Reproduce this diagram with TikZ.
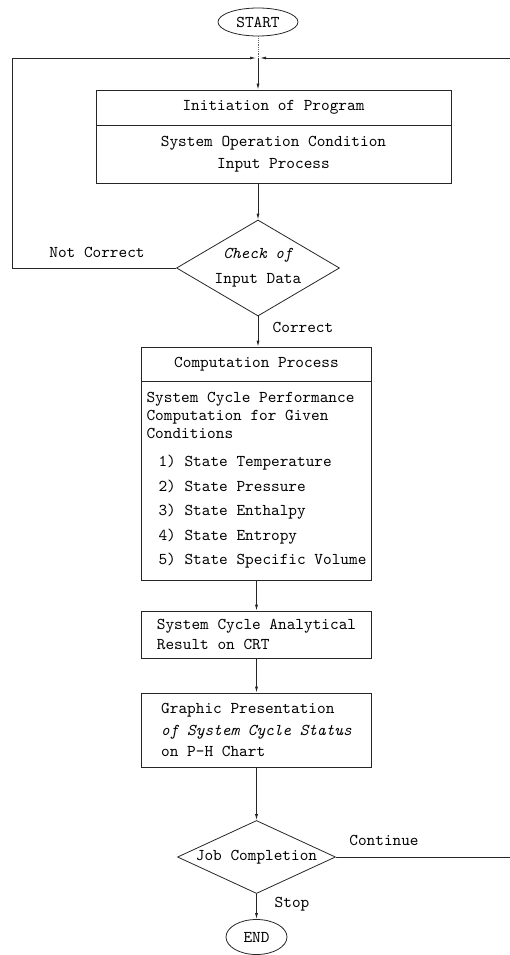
\documentclass[tikz,border=0pt]{standalone}
\usepackage{fontspec}
\newfontfamily\flowfont{lmmono10-regular.otf}[ItalicFont=lmmono10-italic.otf]
\usetikzlibrary{shapes.geometric,arrows.meta,positioning}

\begin{document}
\begin{tikzpicture}[x=1pt,y=-1pt,
  every node/.style={font=\flowfont\fontsize{16.5}{18}\selectfont},
  box/.style={draw=black!85,line width=0.8pt,rectangle,inner sep=0pt,minimum width=230pt},
  decide/.style={draw=black!85,line width=0.8pt,diamond,inner sep=0pt},
  term/.style={draw=black!85,line width=0.8pt,ellipse,inner sep=0pt},
  flow/.style={draw=black!85,line width=0.8pt,-{Latex[length=6pt,width=3pt]}}
  ]
\useasboundingbox (0,0) rectangle (509,955);

% terminals and corners of the loops
\node[term,minimum width=80pt,minimum height=28pt] (start) at (258,22) {START};
\coordinate (j) at (258,58);
\coordinate (ll) at (12,58);
\coordinate (rr) at (512,58);

% input block
\node[box,minimum width=355pt,minimum height=35pt] (init) at (273.5,107.5) {Initiation of Program};
\node[box,minimum width=355pt,minimum height=58pt,align=center] (cond) at (273.5,154)
  {System Operation Condition\\[4pt]Input Process};
\node[decide,minimum width=163pt,minimum height=96pt] (chk) at (258,268) {};
\node[align=center] (chktxt) at (chk) {\itshape Check of\\[7pt]Input Data};

% computation
\node[box,minimum height=34pt] (comptop) at (256.5,364) {Computation Process};
\node[box,minimum height=199pt,align=left] (comp) at (256.5,480.5)
  {System Cycle Performance\\Computation for Given\\Conditions\\[10pt]
   \hspace*{12pt}1) State Temperature\\[6.5pt]
   \hspace*{12pt}2) State Pressure\\[6.5pt]
   \hspace*{12pt}3) State Enthalpy\\[6.5pt]
   \hspace*{12pt}4) State Entropy\\[6.5pt]
   \hspace*{12pt}5) State Specific Volume};

% results
\node[box,minimum height=47pt,align=left] (res) at (256.5,634.5)
  {System Cycle Analytical\\[2pt]Result on CRT};
\node[box,minimum height=74pt,align=left] (graph) at (256.5,730)
  {Graphic Presentation\\[3.5pt]\itshape of System Cycle Status\\[3.5pt]on P–H Chart};
\node[decide,minimum width=158pt,minimum height=73pt] (job) at (256.5,857) {};
\node (jobtxt) at (job) {Job Completion};
\node[term,minimum width=61pt,minimum height=35pt] (end) at (256.5,937) {END};

% labels
\node (notc) at (97,252) {Not Correct};
\node (corr) at (303,327) {Correct};
\node (cont) at (384,840) {Continue};
\node (stop) at (292,904) {Stop};

% connectors
\draw[black!60,line width=0.8pt,densely dotted] (start) -- (j);
\draw[flow] (j) -- (j |- init.north);
\draw[flow] (j |- cond.south) -- (chk.north);
\draw[flow,shorten >=2pt] (chk.west) -| (ll) -- (j);
\draw[flow] (chk.south) -- (chk.south |- comptop.north);
\draw[flow] (comp) -- (res);
\draw[flow] (res) -- (graph);
\draw[flow] (graph) -- (job);
\draw[flow] (job) -- (end);
\draw[flow,shorten >=2pt] (job.east) -| (rr) -- (j);
\end{tikzpicture}
\end{document}
